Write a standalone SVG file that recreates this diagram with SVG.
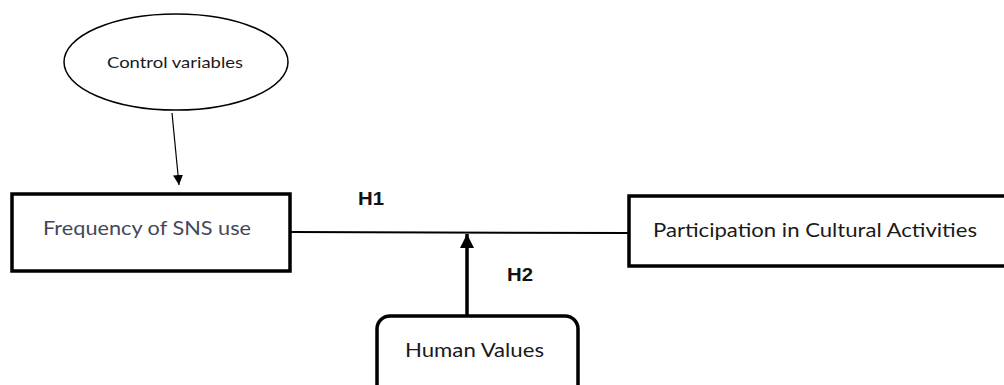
<svg xmlns="http://www.w3.org/2000/svg" width="1004" height="385" viewBox="0 0 1004 385">
  <style>
    .box { fill: #ffffff; stroke: #000000; stroke-width: 3.5; }
    .label { font-family: Lato, "Open Sans", "Liberation Sans", sans-serif; fill: #1a1a1a; }
    .hyp { font-family: "Liberation Sans", "Open Sans", sans-serif; font-weight: bold; font-size: 18px; fill: #111111; }
  </style>
  <defs>
    <marker id="arrowThin" viewBox="0 0 10 10" refX="10" refY="5" markerWidth="10" markerHeight="10" markerUnits="userSpaceOnUse" orient="auto">
      <path d="M0,0 L10,5 L0,10 z" fill="#000"/>
    </marker>
    <marker id="arrowBold" viewBox="0 0 14 14" refX="14" refY="7" markerWidth="14" markerHeight="14" markerUnits="userSpaceOnUse" orient="auto">
      <path d="M0,0 L14,7 L0,14 z" fill="#000"/>
    </marker>
  </defs>

  <rect width="1004" height="385" fill="#ffffff"/>

  <g id="connectors">
    <!-- control variables -> frequency -->
    <line x1="172" y1="113" x2="179" y2="185" stroke="#000" stroke-width="1.2" marker-end="url(#arrowThin)"/>
    <!-- H1 main path -->
    <line x1="291" y1="232" x2="629" y2="233" stroke="#000" stroke-width="2"/>
    <!-- H2 moderation -->
    <line x1="467" y1="316" x2="467" y2="234" stroke="#000" stroke-width="3.5" marker-end="url(#arrowBold)"/>
    <text class="hyp" x="358" y="205" textLength="26" lengthAdjust="spacingAndGlyphs">H1</text>
    <text class="hyp" x="507" y="281" textLength="26" lengthAdjust="spacingAndGlyphs">H2</text>
  </g>

  <g id="control-variables">
    <ellipse cx="176" cy="62" rx="112" ry="48" fill="#fff" stroke="#000" stroke-width="1.5"/>
    <text class="label" x="107" y="68" font-size="16" textLength="136" lengthAdjust="spacingAndGlyphs">Control variables</text>
  </g>

  <g id="frequency-sns">
    <rect class="box" x="12" y="194" width="278" height="77"/>
    <text class="label" x="43" y="235" font-size="19.5" style="fill:#44475a" textLength="208" lengthAdjust="spacingAndGlyphs">Frequency of SNS use</text>
  </g>

  <g id="participation">
    <rect class="box" x="629" y="196" width="390" height="70"/>
    <text class="label" x="653" y="237" font-size="19.5" textLength="324" lengthAdjust="spacingAndGlyphs">Participation in Cultural Activities</text>
  </g>

  <g id="human-values">
    <rect class="box" x="377" y="316" width="201" height="84" rx="13" ry="13"/>
    <text class="label" x="405" y="357" font-size="18.5" textLength="139" lengthAdjust="spacingAndGlyphs">Human Values</text>
  </g>
</svg>
